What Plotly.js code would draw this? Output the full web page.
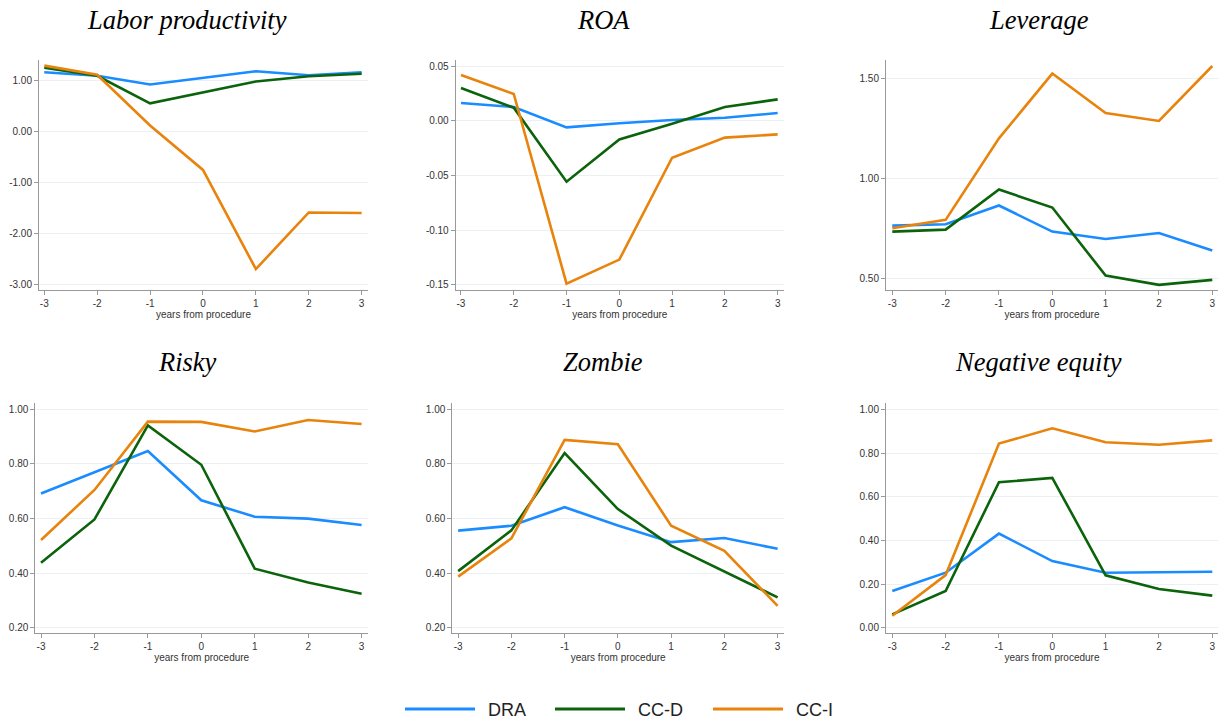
<!DOCTYPE html>
<html><head><meta charset="utf-8">
<script src="https://cdn.plot.ly/plotly-3.0.1.min.js"></script>
<style>html,body{margin:0;padding:0;background:#fff}#chart{width:1218px;height:722px}</style>
</head><body><div id="chart"></div>
<script>
const years = [-3, -2, -1, 0, 1, 2, 3];
const seriesNames = ['DRA', 'CC-D', 'CC-I'];
const seriesColors = ['#1a8cff', '#0b640b', '#e8830c'];
const panelTitles = ['Labor productivity', 'ROA', 'Leverage', 'Risky', 'Zombie', 'Negative equity'];
const xAxisLabel = 'years from procedure';

// Labor productivity
const laborDRA  = [1.17, 1.10, 0.93, 1.06, 1.19, 1.11, 1.17];
const laborCCD  = [1.26, 1.10, 0.56, 0.78, 0.99, 1.09, 1.14];
const laborCCI  = [1.30, 1.12, 0.125, -0.745, -2.69, -1.58, -1.59];
// ROA
const roaDRA = [0.0162, 0.0125, -0.0061, -0.0024, 0.0006, 0.0027, 0.0070];
const roaCCD = [0.0299, 0.0119, -0.0558, -0.0171, -0.0027, 0.0125, 0.0195];
const roaCCI = [0.0418, 0.0244, -0.149, -0.127, -0.0338, -0.0155, -0.0125];
// Leverage
const levDRA = [0.764, 0.771, 0.865, 0.734, 0.697, 0.727, 0.639];
const levCCD = [0.734, 0.744, 0.945, 0.855, 0.513, 0.467, 0.492];
const levCCI = [0.751, 0.793, 1.202, 1.527, 1.329, 1.289, 1.565];
// Risky
const riskyDRA = [0.691, 0.768, 0.846, 0.666, 0.606, 0.599, 0.576];
const riskyCCD = [0.438, 0.596, 0.940, 0.796, 0.416, 0.365, 0.324];
const riskyCCI = [0.521, 0.704, 0.954, 0.953, 0.918, 0.960, 0.945];
// Zombie
const zombieDRA = [0.555, 0.573, 0.641, 0.574, 0.513, 0.528, 0.489];
const zombieCCD = [0.407, 0.556, 0.839, 0.634, 0.500, 0.407, 0.311];
const zombieCCI = [0.387, 0.527, 0.887, 0.871, 0.573, 0.481, 0.280];
// Negative equity
const negDRA = [0.168, 0.252, 0.431, 0.305, 0.252, 0.253, 0.256];
const negCCD = [0.061, 0.168, 0.666, 0.686, 0.240, 0.177, 0.147];
const negCCI = [0.055, 0.241, 0.843, 0.913, 0.849, 0.838, 0.858];

const panelSeries = [
  [laborDRA, laborCCD, laborCCI],
  [roaDRA, roaCCD, roaCCI],
  [levDRA, levCCD, levCCI],
  [riskyDRA, riskyCCD, riskyCCI],
  [zombieDRA, zombieCCD, zombieCCI],
  [negDRA, negCCD, negCCI]
];
const yTickVals = [
  [-3, -2, -1, 0, 1],
  [-0.15, -0.10, -0.05, 0, 0.05],
  [0.5, 1.0, 1.5],
  [0.2, 0.4, 0.6, 0.8, 1.0],
  [0.2, 0.4, 0.6, 0.8, 1.0],
  [0, 0.2, 0.4, 0.6, 0.8, 1.0]
];
const yRanges = [[-3.1, 1.41], [-0.1548, 0.0555], [0.441, 1.595], [0.1795, 1.022], [0.1795, 1.022], [-0.0256, 1.029]];

// geometry (pixels)
const W = 1218, H = 722;
const geo = [
  {x0: 39,    x1: 368,  xr: [-3.1, 3.12],  y0: 60,  y1: 290,   tx: 187},
  {x0: 455.7, x1: 784,  xr: [-3.1, 3.12],  y0: 60,  y1: 290,   tx: 603},
  {x0: 886,   x1: 1218, xr: [-3.118, 3.107], y0: 60, y1: 290,  tx: 1039},
  {x0: 35.3,  x1: 368,  xr: [-3.107, 3.12], y0: 403, y1: 633.3, tx: 187},
  {x0: 452.3, x1: 784,  xr: [-3.11, 3.12], y0: 403, y1: 633.3, tx: 603},
  {x0: 886,   x1: 1218, xr: [-3.118, 3.107], y0: 403, y1: 633.3, tx: 1038}
];

const tickFont = {family: 'Liberation Sans, Arial, sans-serif', size: 10, color: '#333'};
const data = [];
const layout = {
  width: W, height: H,
  margin: {l: 0, r: 0, t: 0, b: 0},
  paper_bgcolor: '#fff', plot_bgcolor: '#fff',
  showlegend: false,
  annotations: [], shapes: []
};

geo.forEach((g, i) => {
  const n = i + 1;
  const xa = 'xaxis' + (n === 1 ? '' : n);
  const ya = 'yaxis' + (n === 1 ? '' : n);
  panelSeries[i].forEach((ys, s) => {
    data.push({
      x: years, y: ys, type: 'scatter', mode: 'lines',
      name: seriesNames[s],
      line: {color: seriesColors[s], width: 2.6},
      xaxis: 'x' + (n === 1 ? '' : n), yaxis: 'y' + (n === 1 ? '' : n),
      hoverinfo: 'skip'
    });
  });
  layout[xa] = {
    domain: [g.x0 / W, g.x1 / W], range: g.xr, anchor: 'y' + (n === 1 ? '' : n),
    tickvals: years, ticktext: years.map(v => String(v)),
    ticks: 'outside', ticklen: 4, tickcolor: '#999', tickwidth: 1,
    showline: true, linecolor: '#999', linewidth: 1,
    showgrid: false, zeroline: false, tickfont: tickFont,
    title: {text: xAxisLabel, font: tickFont, standoff: 0}
  };
  layout[ya] = {
    domain: [1 - g.y1 / H, 1 - g.y0 / H], range: yRanges[i], anchor: 'x' + (n === 1 ? '' : n),
    tickvals: yTickVals[i], ticktext: yTickVals[i].map(v => v.toFixed(2)),
    ticks: 'outside', ticklen: 4, tickcolor: '#999', tickwidth: 1,
    showline: true, linecolor: '#999', linewidth: 1,
    showgrid: true, gridcolor: '#eaf0f3', gridwidth: 1,
    zeroline: false, tickfont: tickFont
  };
  layout.annotations.push({
    text: panelTitles[i], xref: 'paper', yref: 'paper',
    x: g.tx / W, y: 1 - (i < 3 ? 20 : 362) / H,
    xanchor: 'center', yanchor: 'middle', showarrow: false,
    font: {family: 'Liberation Serif, Times New Roman, serif', size: 26.5, style: 'italic', color: '#000'}
  });
});

// legend (drawn as paper-space decorations)
const legendX = [405, 555, 713];
seriesNames.forEach((name, s) => {
  layout.shapes.push({
    type: 'line', xref: 'paper', yref: 'paper',
    x0: legendX[s] / W, x1: (legendX[s] + 70) / W,
    y0: 1 - 709 / H, y1: 1 - 709 / H,
    line: {color: seriesColors[s], width: 3.2}
  });
  layout.annotations.push({
    text: name, xref: 'paper', yref: 'paper',
    x: (legendX[s] + 81) / W, y: 1 - 710 / H,
    xanchor: 'left', yanchor: 'middle', showarrow: false,
    font: {family: 'Liberation Sans, Arial, sans-serif', size: 18, color: '#222'}
  });
});

Plotly.newPlot('chart', data, layout, {staticPlot: true});
</script>
</body></html>
